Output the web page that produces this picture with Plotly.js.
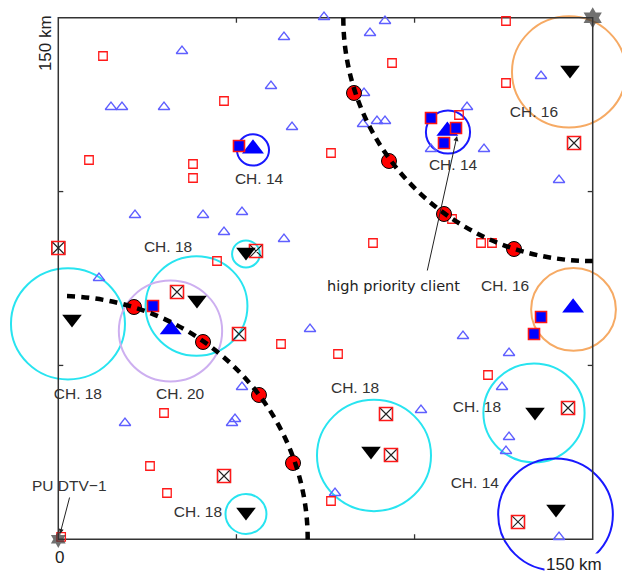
<!DOCTYPE html>
<html>
<head>
<meta charset="utf-8">
<script src="https://cdn.plot.ly/plotly-3.0.1.min.js"></script>
<style>html,body{margin:0;padding:0;background:#fff;}</style>
</head>
<body>
<div id="chart" style="width:622px;height:574px;"></div>
<script>
// ---- data (km) ----
// secondary users (blue open triangles)
const suX = [34.72,63.35,59.70,14.79,17.88,29.67,65.60,74.58,91.70,87.49,135.49,85.81,85.53,89.45,91.70,114.72,104.61,119.49,140.54,21.53,40.62,51.56,46.51,63.35,11.42,70.65,51.56,18.72,49.60,48.76,113.59,126.51,124.54,101.80,77.67,126.51,125.66,140.54];
const suY = [140.43,144.45,130.36,124.32,124.32,124.32,118.57,150.20,149.05,145.60,133.24,128.35,119.43,120.30,120.30,124.32,112.24,112.24,103.33,93.26,93.26,94.13,88.37,86.36,75.14,60.48,43.80,33.45,34.60,33.45,58.47,53.58,43.80,37.18,13.32,29.42,25.39,0.66];
// clients (red open squares)
const clX = [12.55,46.51,8.62,37.81,37.81,125.66,93.67,125.66,76.54,112.47,44.55,62.51,110.51,88.33,118.65,121.73,78.51,120.61,29.67,25.74,30.51,76.54,0.8];
const clY = [138.99,126.05,109.08,107.93,103.90,149.05,136.97,131.22,111.09,122.02,80.03,56.16,92.11,85.21,85.21,85.21,53.29,47.25,36.32,21.08,13.32,11.01,0.7];
// blocked clients (crossed squares)
const bkX = [144.75,0.0,55.49,33.32,50.72,46.51,91.98,93.38,143.07,129.03];
const bkY = [113.97,83.77,82.91,71.12,59.04,18.20,36.03,24.24,37.76,4.98];
// served clients (blue filled squares)
const svX = [50.72,104.61,111.63,108.26,26.58,135.49,133.52];
const svY = [113.11,121.16,118.28,113.97,67.09,63.93,59.04];
// access points (big blue triangles)
const apX = [54.65,109.2,31.55,144.5];
const apY = [112.3,117.4,60.3,66.6];
// base stations (black down triangles)
const bsX = [143.63,52.68,3.85,38.93,87.77,133.80,139.70,52.68];
const bsY = [134.96,82.62,63.35,68.82,25.39,36.61,8.71,7.85];
// contour points (red circles)
const cpX = [83.00,92.82,108.26,127.91,21.25,40.62,56.33,65.88];
const cpY = [128.35,108.79,93.55,83.48,66.80,56.74,41.50,21.94];
// primary users (stars)
const puX = [0,150];
const puY = [0,150];
// protection contours (arcs)
const arcCX = [150,0];
const arcCY = [150,0];
const arcR = [70,70];
const arcA0 = [180,88];
const arcA1 = [270,0];
// coverage circles per channel
const ch18X = [2.72,38.79,52.68,88.61,133.52,52.68];
const ch18Y = [61.98,67.09,82.05,24.10,36.32,7.28];
const ch18R = [16.0,14.3,3.9,16.0,14.2,5.75];
const ch16X = [143.34,144.61];
const ch16Y = [134.39,66.09];
const ch16R = [16.0,11.9];
const ch20X = [31.49];
const ch20Y = [59.90];
const ch20R = [14.5];
const ch14X = [54.65,109.38,139.56];
const ch14Y = [111.96,117.13,7.13];
const ch14R = [4.5,6.2,16.1];
// channel labels
const labelText = ['CH. 14','CH. 16','CH. 14','CH. 18','CH. 16','CH. 18','CH. 20','CH. 18','CH. 18','CH. 14','CH. 18'];
const labelX = [56.35,133.5,110.8,30.8,125.4,5.5,34.2,83.3,117.5,116.9,39.2];
const labelY = [103.3,122.6,107.3,83.8,72.5,41.5,41.5,43.3,37.8,15.9,7.6];
// axis extent and ticks
const axisMax = 150;
const tickVals = [50,100];

// ---- build ----
const traces = [
  {x:suX,y:suY,mode:'markers',type:'scatter',marker:{symbol:'triangle-up-open',size:10,color:'rgb(95,95,255)',line:{width:1.3}}},
  {x:clX,y:clY,mode:'markers',type:'scatter',marker:{symbol:'square-open',size:8.5,color:'rgb(255,25,25)',line:{width:1.3}}},
  {x:bkX,y:bkY,mode:'markers',type:'scatter',marker:{symbol:'square-x-open',size:13,color:'#222',line:{width:1.1}}},
  {x:bkX,y:bkY,mode:'markers',type:'scatter',marker:{symbol:'square-open',size:13,color:'rgb(255,25,25)',line:{width:1.5}}},
  {x:apX,y:apY,mode:'markers',type:'scatter',marker:{symbol:'triangle-up',size:19,color:'#0000ff',line:{width:0}}},
  {x:svX,y:svY,mode:'markers',type:'scatter',marker:{symbol:'square',size:11,color:'#0000ff',line:{width:1.6,color:'rgb(255,20,20)'}}},
  {x:bsX,y:bsY,mode:'markers',type:'scatter',marker:{symbol:'triangle-down',size:17,color:'#000',line:{width:0}}},
  {x:cpX,y:cpY,mode:'markers',type:'scatter',marker:{symbol:'circle',size:15,color:'#ff0000',line:{width:1,color:'#000'}}},
  {x:puX,y:puY,mode:'markers',type:'scatter',marker:{symbol:'hexagram',size:[13,16],color:'#333',line:{width:0}}},
  {x:labelX,y:labelY,text:labelText,mode:'text',type:'scatter',textposition:'middle center',textfont:{family:'Liberation Sans, Arial, sans-serif',size:15.5,color:'#333'}}
];

const shapes = [];
function addCircles(X,Y,R,color){
  for(let i=0;i<X.length;i++){
    shapes.push({type:'circle',xref:'x',yref:'y',x0:X[i]-R[i],x1:X[i]+R[i],y0:Y[i]-R[i],y1:Y[i]+R[i],line:{color:color,width:2},layer:'below'});
  }
}
addCircles(ch18X,ch18Y,ch18R,'rgb(40,228,240)');
addCircles(ch16X,ch16Y,ch16R,'rgb(246,170,100)');
addCircles(ch20X,ch20Y,ch20R,'rgb(205,175,240)');
addCircles(ch14X,ch14Y,ch14R,'rgb(25,25,255)');

// frame
shapes.push({type:'rect',xref:'x',yref:'y',x0:0,x1:axisMax,y0:0,y1:axisMax,line:{color:'#333',width:1.5},layer:'below'});
const tx = 1.4, ty = 1.45;
tickVals.forEach(v=>{
  shapes.push({type:'line',xref:'x',yref:'y',x0:v,x1:v,y0:0,y1:ty,line:{color:'#333',width:1.3}});
  shapes.push({type:'line',xref:'x',yref:'y',x0:v,x1:v,y0:axisMax,y1:axisMax-ty,line:{color:'#333',width:1.3}});
  shapes.push({type:'line',xref:'x',yref:'y',x0:0,x1:tx,y0:v,y1:v,line:{color:'#333',width:1.3}});
  shapes.push({type:'line',xref:'x',yref:'y',x0:axisMax,x1:axisMax-tx,y0:v,y1:v,line:{color:'#333',width:1.3}});
});

// arcs (cubic Bezier)
const arcDash = ['8px,6.05px','8px,6.26px'];
for(let i=0;i<arcCX.length;i++){
  const a0=arcA0[i]*Math.PI/180, a1=arcA1[i]*Math.PI/180, r=arcR[i], cx=arcCX[i], cy=arcCY[i];
  const k = 4/3*Math.tan((a1-a0)/4);
  const p0=[cx+r*Math.cos(a0), cy+r*Math.sin(a0)];
  const p3=[cx+r*Math.cos(a1), cy+r*Math.sin(a1)];
  const p1=[p0[0]-k*r*Math.sin(a0), p0[1]+k*r*Math.cos(a0)];
  const p2=[p3[0]+k*r*Math.sin(a1), p3[1]-k*r*Math.cos(a1)];
  const path = `M ${p0[0]},${p0[1]} C ${p1[0]},${p1[1]} ${p2[0]},${p2[1]} ${p3[0]},${p3[1]}`;
  shapes.push({type:'path',xref:'x',yref:'y',path:path,line:{color:'#000',width:4.5,dash:arcDash[i]},layer:'above'});
}

const af = {family:'Liberation Sans, Arial, sans-serif',size:17,color:'#222'};
const annotations = [
  {x:0.34,y:-5.23,xref:'x',yref:'y',text:'0',showarrow:false,font:af},
  {x:144.75,y:-7.2,xref:'x',yref:'y',text:'150 km',showarrow:false,font:af,bgcolor:'#fff',borderpad:1},
  {x:-3.73,y:142.7,xref:'x',yref:'y',text:'150 km',showarrow:false,font:af,textangle:-90},
  {x:93.95,y:72.84,xref:'x',yref:'y',text:'high priority client',showarrow:false,font:{family:'DejaVu Sans, sans-serif',size:14.5,color:'#222'}},
  {x:111.91,y:115.98,ax:103.48,ay:76.87,xref:'x',yref:'y',axref:'x',ayref:'y',text:'',showarrow:true,arrowhead:2,arrowsize:1,arrowwidth:1,arrowcolor:'#222'},
  {x:3.28,y:15.33,xref:'x',yref:'y',text:'PU DTV\u22121',showarrow:false,font:{family:'Liberation Sans, Arial, sans-serif',size:15.5,color:'#333'}},
  {x:0.48,y:1.53,ax:3.28,ay:12.45,xref:'x',yref:'y',axref:'x',ayref:'y',text:'',showarrow:true,arrowhead:2,arrowsize:1,arrowwidth:1,arrowcolor:'#222'}
];

const layout = {
  width:622,height:574,
  margin:{l:0,r:0,t:0,b:0,pad:0},
  paper_bgcolor:'#fff',plot_bgcolor:'#fff',
  showlegend:false,
  hovermode:false,
  xaxis:{range:[-16.36,158.22],visible:false,fixedrange:true},
  yaxis:{range:[-9.98,155.09],visible:false,fixedrange:true},
  shapes:shapes,
  annotations:annotations
};
Plotly.newPlot('chart',traces,layout,{displayModeBar:false,staticPlot:true});
</script>
</body>
</html>
